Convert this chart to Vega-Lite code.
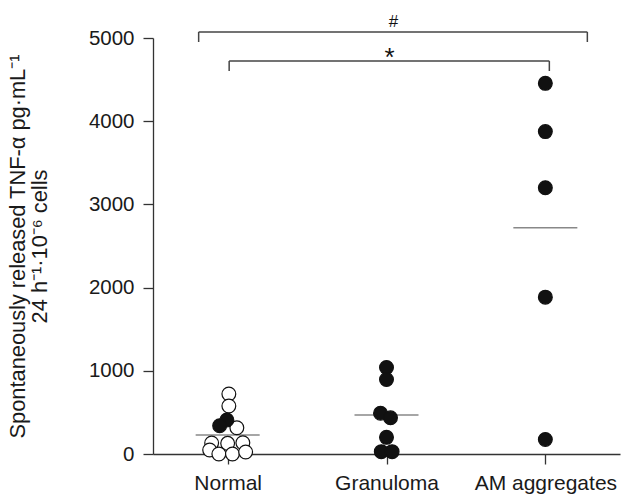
{
  "$schema": "https://vega.github.io/schema/vega-lite/v6.json",
  "width": 467,
  "height": 416,
  "autosize": {"type": "none"},
  "padding": {"left": 153, "top": 38, "right": 4, "bottom": 44},
  "background": "white",
  "config": {
    "view": {"stroke": null},
    "font": "Liberation Sans, Arial, sans-serif",
    "axis": {
      "labelFont": "Liberation Sans, Arial, sans-serif",
      "titleFont": "Liberation Sans, Arial, sans-serif",
      "domainColor": "#333",
      "tickColor": "#333",
      "labelColor": "#1a1a1a",
      "titleColor": "#1a1a1a",
      "grid": false,
      "domainWidth": 1.3,
      "tickWidth": 1.3
    }
  },
  "datasets": {
    "points": [
      {"group": "Normal", "value": 721, "kind": "open", "jit": 0.3},
      {"group": "Normal", "value": 577, "kind": "open", "jit": 0.3},
      {"group": "Normal", "value": 316, "kind": "open", "jit": 2.3},
      {"group": "Normal", "value": 132, "kind": "open", "jit": -4},
      {"group": "Normal", "value": 128, "kind": "open", "jit": 0},
      {"group": "Normal", "value": 135, "kind": "open", "jit": 3.8},
      {"group": "Normal", "value": 48, "kind": "open", "jit": -4.5},
      {"group": "Normal", "value": 0, "kind": "open", "jit": -2.2},
      {"group": "Normal", "value": 0, "kind": "open", "jit": 1.2},
      {"group": "Normal", "value": 24, "kind": "open", "jit": 4.5},
      {"group": "Normal", "value": 409, "kind": "filled", "jit": -0.2},
      {"group": "Normal", "value": 340, "kind": "filled", "jit": -2},
      {"group": "Granuloma", "value": 1040, "kind": "filled", "jit": 0},
      {"group": "Granuloma", "value": 895, "kind": "filled", "jit": 0},
      {"group": "Granuloma", "value": 490, "kind": "filled", "jit": -1.5},
      {"group": "Granuloma", "value": 435, "kind": "filled", "jit": 1},
      {"group": "Granuloma", "value": 200, "kind": "filled", "jit": 0},
      {"group": "Granuloma", "value": 28, "kind": "filled", "jit": -1.3},
      {"group": "Granuloma", "value": 28, "kind": "filled", "jit": 1.4},
      {"group": "AM aggregates", "value": 4455, "kind": "filled", "jit": 0},
      {"group": "AM aggregates", "value": 3875, "kind": "filled", "jit": 0},
      {"group": "AM aggregates", "value": 3200, "kind": "filled", "jit": 0},
      {"group": "AM aggregates", "value": 1885, "kind": "filled", "jit": 0},
      {"group": "AM aggregates", "value": 175, "kind": "filled", "jit": 0}
    ],
    "means": [
      {"group": "Normal", "mean": 228},
      {"group": "Granuloma", "mean": 469},
      {"group": "AM aggregates", "mean": 2720}
    ],
    "hash": [{"from": "Normal", "to": "AM aggregates", "mid": "Granuloma", "y": 5072, "yEnd": 4952, "label": "#", "ly": 5138}],
    "star": [{"from": "Normal", "to": "AM aggregates", "mid": "Granuloma", "y": 4723, "yEnd": 4603, "label": "*", "ly": 4660}]
  },
  "encoding": {
    "y": {
      "type": "quantitative",
      "scale": {"domain": [0, 5000], "nice": false, "zero": true}
    }
  },
  "layer": [
    {
      "data": {"name": "means"},
      "mark": {"type": "tick", "size": 64, "thickness": 1.5, "color": "#555"},
      "encoding": {
        "x": {
          "field": "group", "type": "nominal",
          "scale": {"type": "point", "padding": 0.47, "domain": ["Normal", "Granuloma", "AM aggregates"]},
          "axis": {
            "title": null,
            "labelAngle": 0,
            "labelFontSize": 21,
            "tickSize": 10,
            "labelPadding": 8,
            "domain": true
          }
        },
        "y": {
          "field": "mean", "type": "quantitative",
          "axis": {
            "title": ["Spontaneously released TNF-α pg·mL⁻¹", "24 h⁻¹·10⁻⁶ cells"],
            "titleFontSize": 21.8,
            "titleFontWeight": "normal",
            "titleLineHeight": 22,
            "titlePadding": 37,
            "values": [0, 1000, 2000, 3000, 4000, 5000],
            "format": "d",
            "labelFontSize": 20.5,
            "tickSize": 10,
            "labelPadding": 9
          }
        }
      }
    },
    {
      "data": {"name": "points"},
      "mark": {"type": "point", "shape": "circle", "filled": false, "size": 190, "stroke": "#111", "strokeWidth": 1.2, "opacity": 1},
      "encoding": {
        "x": {"field": "group", "type": "nominal"},
        "xOffset": {"field": "jit", "type": "quantitative", "scale": {"domain": [-5, 5], "range": [-20, 20]}},
        "y": {"field": "value", "type": "quantitative"},
        "fill": {
          "field": "kind", "type": "nominal",
          "scale": {"domain": ["filled", "open"], "range": ["#111111", "#ffffff"]},
          "legend": null
        }
      }
    },
    {
      "data": {"name": "hash"},
      "layer": [
        {"mark": {"type": "rule", "color": "#444", "strokeWidth": 1.5, "xOffset": -29, "x2Offset": 42},
         "encoding": {"x": {"field": "from", "type": "nominal"}, "x2": {"field": "to"}, "y": {"field": "y", "type": "quantitative"}}},
        {"mark": {"type": "rule", "color": "#444", "strokeWidth": 1.5, "xOffset": -29},
         "encoding": {"x": {"field": "from", "type": "nominal"}, "y": {"field": "y", "type": "quantitative"}, "y2": {"field": "yEnd"}}},
        {"mark": {"type": "rule", "color": "#444", "strokeWidth": 1.5, "xOffset": 42},
         "encoding": {"x": {"field": "to", "type": "nominal"}, "y": {"field": "y", "type": "quantitative"}, "y2": {"field": "yEnd"}}},
        {"mark": {"type": "text", "fontSize": 17, "dx": 7, "baseline": "alphabetic", "align": "center", "color": "#111"},
         "encoding": {"x": {"field": "mid", "type": "nominal"}, "y": {"field": "ly", "type": "quantitative"}, "text": {"field": "label"}}}
      ]
    },
    {
      "data": {"name": "star"},
      "layer": [
        {"mark": {"type": "rule", "color": "#444", "strokeWidth": 1.5, "xOffset": 1.5, "x2Offset": 4},
         "encoding": {"x": {"field": "from", "type": "nominal"}, "x2": {"field": "to"}, "y": {"field": "y", "type": "quantitative"}}},
        {"mark": {"type": "rule", "color": "#444", "strokeWidth": 1.5, "xOffset": 1.5},
         "encoding": {"x": {"field": "from", "type": "nominal"}, "y": {"field": "y", "type": "quantitative"}, "y2": {"field": "yEnd"}}},
        {"mark": {"type": "rule", "color": "#444", "strokeWidth": 1.5, "xOffset": 4},
         "encoding": {"x": {"field": "to", "type": "nominal"}, "y": {"field": "y", "type": "quantitative"}, "y2": {"field": "yEnd"}}},
        {"mark": {"type": "text", "fontSize": 26, "dx": 3, "baseline": "alphabetic", "align": "center", "color": "#111"},
         "encoding": {"x": {"field": "mid", "type": "nominal"}, "y": {"field": "ly", "type": "quantitative"}, "text": {"field": "label"}}}
      ]
    }
  ]
}
